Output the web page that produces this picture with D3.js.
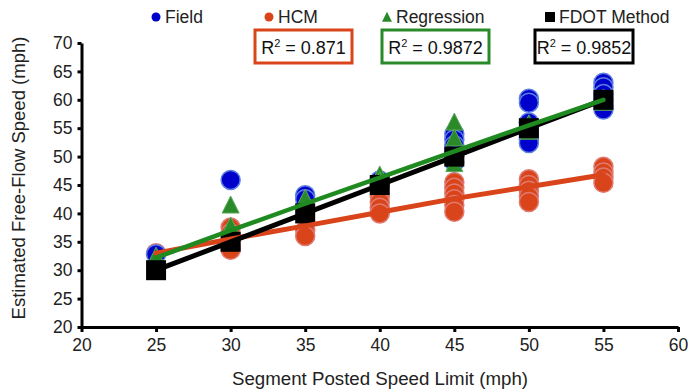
<!DOCTYPE html>
<html><head><meta charset="utf-8">
<script src="https://cdn.jsdelivr.net/npm/d3@7"></script>
<style>
html,body{margin:0;padding:0;background:#fff;}
svg{display:block;}
text{font-family:"Liberation Sans",Arial,sans-serif;}
</style></head>
<body>
<svg id="chart" width="691" height="391"></svg>
<script>
// ---------- data ----------
const speedLimits = [25, 30, 35, 40, 45, 50, 55];
const fieldValues = [
  [32.8],
  [45.9],
  [43.2, 42.5],
  [45.8, 45.0],
  [54.0, 53.0, 52.0, 51.0, 50.0, 49.0],
  [60.2, 59.5, 56.0, 55.0, 54.0, 53.0, 52.4],
  [63.0, 62.2, 61.0, 60.0, 59.0, 58.3]
];
const hcmValues = [
  [33.0],
  [37.5, 36.5, 35.0, 34.0, 33.6],
  [37.0, 36.0],
  [43.0, 42.0, 41.0, 40.0],
  [45.5, 44.5, 43.5, 42.5, 41.5, 40.3],
  [46.0, 45.0, 44.0, 43.0, 42.0],
  [48.2, 47.2, 46.3, 45.4]
];
const regressionValues = [
  [32.2],
  [41.2, 37.5],
  [42.4],
  [46.5, 45.5],
  [55.8, 53.0, 48.5],
  [55.5, 54.2],
  [60.0, 59.3]
];
const fdotValues = [30, 35, 40, 45, 50, 55, 60];
const hcmTrend = [33.0, 35.5, 37.8, 40.2, 42.6, 44.7, 46.8];
const regressionTrend = [32.2, 37.0, 41.7, 46.3, 50.9, 55.5, 60.0];
const fdotTrend = [30, 35, 40, 45, 50, 55, 60];
const xTicks = [20, 25, 30, 35, 40, 45, 50, 55, 60];
const yTicks = [20, 25, 30, 35, 40, 45, 50, 55, 60, 65, 70];
const seriesNames = ["Field", "HCM", "Regression", "FDOT Method"];
const r2Labels = ["", "0.871", "0.9872", "0.9852"];
const xTitle = "Segment Posted Speed Limit (mph)";
const yTitle = "Estimated Free-Flow Speed (mph)";

// ---------- layout ----------
const svg = d3.select("#chart");
const L = 81.5, R = 678, T = 43, B = 327;
const x = d3.scaleLinear().domain([20, 60]).range([L, R]);
const y = d3.scaleLinear().domain([20, 70]).range([B, T]);

const C = {
  field: "#0000cc", fieldEdge: "#5b7fe0",
  hcm: "#d9441a", hcmEdge: "#e07a70",
  reg: "#2a8a2a", regEdge: "#5aaa5a",
  fdot: "#000000",
  hcmLine: "#d9441a", regLine: "#1f8a1f"
};

// axes
const yAxis = svg.append("g").attr("transform", `translate(${L},0)`)
  .call(d3.axisLeft(y).tickValues(yTicks).tickSize(4).tickSizeOuter(0).tickPadding(5));
const xAxis = svg.append("g").attr("transform", `translate(0,${B})`)
  .call(d3.axisBottom(x).tickValues(xTicks).tickSize(5).tickSizeOuter(0).tickPadding(7));
[yAxis, xAxis].forEach(g => {
  g.select(".domain").attr("stroke", "#000").attr("stroke-width", 3);
  g.selectAll(".tick line").attr("stroke", "#000").attr("stroke-width", 3);
  g.selectAll(".tick text").attr("fill", "#222").style("font-size", "17.5px")
    .style("font-family", '"Liberation Sans",Arial,sans-serif');
});

// flatten helper
function flat(vals) {
  const out = [];
  vals.forEach((arr, i) => arr.forEach(v => out.push({ s: speedLimits[i], v })));
  return out;
}

const plot = svg.append("g");
// HCM circles
plot.selectAll(".hcm").data(flat(hcmValues)).join("circle")
  .attr("cx", d => x(d.s)).attr("cy", d => y(d.v)).attr("r", 9.5)
  .attr("fill", C.hcm).attr("stroke", C.hcmEdge).attr("stroke-width", 1.5);
// Field circles
plot.selectAll(".field").data(flat(fieldValues)).join("circle")
  .attr("cx", d => x(d.s)).attr("cy", d => y(d.v)).attr("r", 9.5)
  .attr("fill", C.field).attr("stroke", C.fieldEdge).attr("stroke-width", 1.5);
// Regression triangles
const tri = (s) => `M0,${-s * 0.62}L${s * 0.5},${s * 0.38}L${-s * 0.5},${s * 0.38}Z`;
plot.selectAll(".reg").data(flat(regressionValues)).join("path")
  .attr("transform", d => `translate(${x(d.s)},${y(d.v)})`)
  .attr("d", tri(17)).attr("fill", C.reg).attr("stroke", C.regEdge).attr("stroke-width", 1);
// FDOT squares
plot.selectAll(".fdot").data(fdotValues.map((v, i) => ({ s: speedLimits[i], v }))).join("rect")
  .attr("x", d => x(d.s) - 10).attr("y", d => y(d.v) - 10)
  .attr("width", 20).attr("height", 20).attr("fill", C.fdot);

// trend lines
const line = d3.line().x((d, i) => x(speedLimits[i])).y(d => y(d));
plot.append("path").attr("d", line(hcmTrend)).attr("fill", "none")
  .attr("stroke", C.hcmLine).attr("stroke-width", 5).attr("stroke-linecap", "round");
plot.append("path").attr("d", line(fdotTrend)).attr("fill", "none")
  .attr("stroke", "#000").attr("stroke-width", 5).attr("stroke-linecap", "round");
plot.append("path").attr("d", line(regressionTrend)).attr("fill", "none")
  .attr("stroke", C.regLine).attr("stroke-width", 4.5).attr("stroke-linecap", "round");

// axis titles
svg.append("text").attr("x", 380).attr("y", 385).attr("text-anchor", "middle")
  .style("font-size", "18.7px").attr("fill", "#222").text(xTitle);
svg.append("text").attr("transform", `translate(25,178) rotate(-90)`)
  .attr("text-anchor", "middle").style("font-size", "18.5px").attr("fill", "#222").text(yTitle);

// legend
const legX = [156, 269, 387, 550];
const legColors = [C.field, C.hcm, C.reg, C.fdot];
const leg = svg.append("g");
seriesNames.forEach((n, i) => {
  const cx = legX[i], cy = 17;
  if (i < 2) leg.append("circle").attr("cx", cx).attr("cy", cy).attr("r", 4.5).attr("fill", legColors[i]);
  else if (i === 2) leg.append("path").attr("transform", `translate(${cx},${cy + 1})`).attr("d", tri(10)).attr("fill", legColors[i]);
  else leg.append("rect").attr("x", cx - 5).attr("y", cy - 5).attr("width", 10).attr("height", 10).attr("fill", "#000");
  leg.append("text").attr("x", cx + 9).attr("y", cy + 6).style("font-size", "17.5px").attr("fill", "#222").text(n);
});

// R² boxes
const boxes = [null, { x0: 255, x1: 352 }, { x0: 382, x1: 489 }, { x0: 535, x1: 633 }];
const boxColors = [null, C.hcm, C.reg, "#000"];
boxes.forEach((b, i) => {
  if (!b) return;
  leg.append("rect").attr("x", b.x0).attr("y", 30).attr("width", b.x1 - b.x0).attr("height", 33)
    .attr("fill", "#fff").attr("stroke", boxColors[i]).attr("stroke-width", 3);
  const t = leg.append("text").attr("x", (b.x0 + b.x1) / 2).attr("y", 54).attr("text-anchor", "middle")
    .style("font-size", "18px").attr("fill", "#111");
  t.append("tspan").text("R");
  t.append("tspan").attr("dy", -7).style("font-size", "11px").text("2");
  t.append("tspan").attr("dy", 7).text(" = " + r2Labels[i]);
});
</script>
</body></html>
